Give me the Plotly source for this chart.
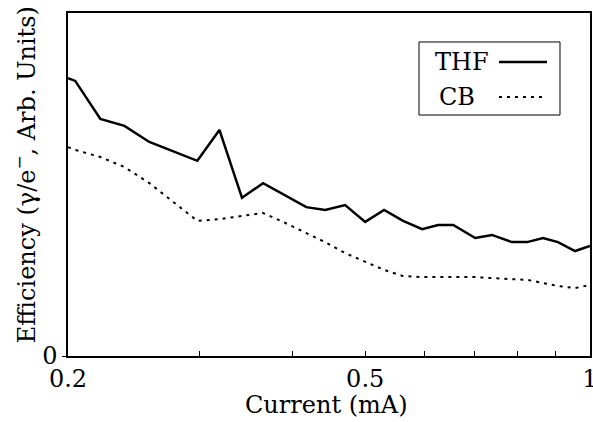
import plotly.graph_objects as go

# Data (arbitrary units, 0 at bottom)
current_mA = [0.2, 0.2045, 0.221, 0.238, 0.257, 0.298, 0.319, 0.342, 0.365, 0.388,
              0.417, 0.442, 0.470, 0.500, 0.530, 0.562, 0.596, 0.626, 0.656,
              0.702, 0.739, 0.786, 0.824, 0.865, 0.906, 0.955, 1.0]
thf = [8.10, 8.02, 6.91, 6.71, 6.24, 5.69, 6.59, 4.61, 5.04, 4.72,
       4.34, 4.26, 4.40, 3.91, 4.26, 3.94, 3.70, 3.82, 3.82,
       3.44, 3.53, 3.32, 3.32, 3.44, 3.32, 3.06, 3.21]
cb = [6.09, 6.01, 5.80, 5.51, 5.04, 3.94, 3.99, 4.08, 4.17, 3.91,
      3.59, 3.32, 3.00, 2.74, 2.51, 2.33, 2.30, 2.30, 2.30,
      2.30, 2.27, 2.24, 2.22, 2.13, 2.04, 1.98, 2.07]
series_names = ["THF", "CB"]
x_tickvals = [0.2, 0.3, 0.4, 0.5, 0.6, 0.7, 0.8, 0.9, 1.0]
x_ticktext = ["0.2", "", "", "0.5", "", "", "", "", "1"]
x_title = "Current (mA)"
y_title = "Efficiency (\u03b3/e<sup>\u2212</sup>, Arb. Units)"

FONT = "DejaVu Serif"
FS = 24
solid = dict(color="black", width=2.5)
dotted = dict(color="black", width=2, dash="3px,5px")

fig = go.Figure()
fig.add_trace(go.Scatter(x=current_mA, y=thf, mode="lines", name=series_names[0],
                         line=solid, showlegend=False))
fig.add_trace(go.Scatter(x=current_mA, y=cb, mode="lines", name=series_names[1],
                         line=dotted, showlegend=False))

# Custom legend (text left of line sample)
fig.add_shape(type="rect", xref="paper", yref="paper", x0=0.6724, x1=0.9425,
              y0=0.7026, y1=0.9155, line=dict(color="black", width=1), fillcolor="white")
fig.add_shape(type="line", xref="paper", yref="paper", x0=0.8257, x1=0.9176,
              y0=0.857, y1=0.857, line=solid)
fig.add_shape(type="line", xref="paper", yref="paper", x0=0.8257, x1=0.9176,
              y0=0.755, y1=0.755, line=dotted)
fig.add_annotation(x=0.699, y=0.856, xref="paper", yref="paper", text=series_names[0],
                   showarrow=False, xanchor="left", yanchor="middle",
                   font=dict(family=FONT, size=FS, color="black"))
fig.add_annotation(x=0.707, y=0.755, xref="paper", yref="paper", text=series_names[1],
                   showarrow=False, xanchor="left", yanchor="middle",
                   font=dict(family=FONT, size=FS, color="black"))

# Axis titles as annotations for exact placement
fig.add_annotation(x=0.496, y=-0.143, xref="paper", yref="paper", text=x_title,
                   showarrow=False, xanchor="center", yanchor="middle",
                   font=dict(family=FONT, size=FS, color="black"))
fig.add_annotation(x=-0.0824, y=0.53, xref="paper", yref="paper", text=y_title,
                   showarrow=False, xanchor="center", yanchor="middle", textangle=-90,
                   font=dict(family=FONT, size=FS, color="black"))

fig.update_layout(
    width=593, height=422,
    margin=dict(l=68, r=3, t=13, b=66, autoexpand=False),
    paper_bgcolor="white", plot_bgcolor="white",
    font=dict(family=FONT, size=FS, color="black"),
    showlegend=False,
)
fig.update_xaxes(
    type="log", range=[-0.69897, 0.0],
    tickvals=x_tickvals, ticktext=x_ticktext,
    ticks="inside", ticklen=5, tickwidth=1, tickcolor="black",
    showline=True, linecolor="black", linewidth=1.5, mirror=True,
    showgrid=False, zeroline=False, automargin=False,
    ticklabeloverflow="allow",
    tickfont=dict(family=FONT, size=FS),
)
fig.update_yaxes(
    range=[0, 10],
    tickvals=[0], ticktext=["0"],
    ticks="outside", ticklen=4, tickcolor="black",
    showline=True, linecolor="black", linewidth=1.5, mirror=True,
    showgrid=False, zeroline=False, automargin=False,
    tickfont=dict(family=FONT, size=FS),
)

fig.write_html(
    "out.html",
    config={"displayModeBar": False},
    post_script="document.body.style.margin='0';document.body.style.overflow='hidden';",
)
